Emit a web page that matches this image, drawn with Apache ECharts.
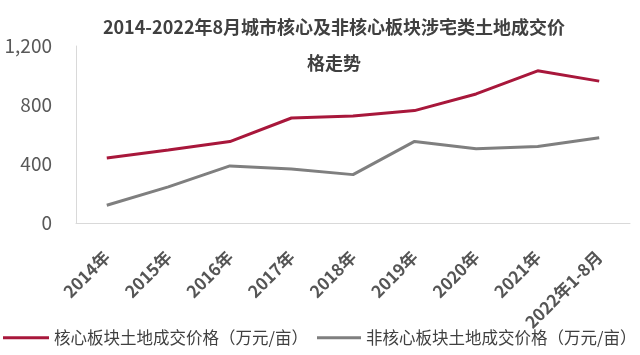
<!DOCTYPE html>
<html><head><meta charset="utf-8">
<script src="https://cdn.jsdelivr.net/npm/echarts@6/dist/echarts.min.js"></script>
<style>html,body{margin:0;padding:0;background:#fff}#c{width:640px;height:355px}</style>
</head><body><div id="c"></div>
<script>
const categories = ['2014年','2015年','2016年','2017年','2018年','2019年','2020年','2021年','2022年1-8月'];
const coreName = '核心板块土地成交价格（万元/亩）';
const nonCoreName = '非核心板块土地成交价格（万元/亩）';
const coreValues = [440, 495, 552, 712, 725, 762, 875, 1032, 962];
const nonCoreValues = [120, 245, 387, 366, 328, 553, 504, 518, 578];
const yTicks = [0, 400, 800, 1200];

const font = '"Noto Sans CJK SC", "Noto Sans", sans-serif';
const legendText = {fontFamily: font, fontSize: 16.5, color: '#404040'};
const chart = echarts.init(document.getElementById('c'));
chart.setOption({
  animation: false,
  textStyle: {fontFamily: font},
  title: {
    text: '2014-2022年8月城市核心及非核心板块涉宅类土地成交价\n格走势',
    left: 329, top: 4, textAlign: 'center',
    textStyle: {fontFamily: font, fontSize: 18, fontWeight: 'bold', color: '#404040', lineHeight: 36}
  },
  legend: [
    {bottom: 4, left: 0, padding: [5, 3], itemWidth: 46, itemHeight: 3, itemGap: 4,
     icon: 'rect', textStyle: legendText, data: [coreName]},
    {bottom: 4, left: 314, padding: [5, 3], itemWidth: 44, itemHeight: 3, itemGap: 4,
     icon: 'rect', textStyle: legendText, data: [nonCoreName]}
  ],
  grid: {left: 76, right: 10, top: 46, bottom: 132},
  xAxis: {
    type: 'category', data: categories, boundaryGap: true,
    axisLine: {lineStyle: {color: '#d9d9d9'}},
    axisTick: {show: false},
    axisLabel: {rotate: 45, fontSize: 17, fontWeight: 'bold', color: '#555555', fontFamily: font, margin: 31, interval: 0}
  },
  yAxis: {
    type: 'value', min: yTicks[0], max: yTicks[yTicks.length-1], interval: 400,
    axisLine: {show: true, lineStyle: {color: '#d9d9d9'}},
    axisTick: {show: false},
    splitLine: {show: false},
    axisLabel: {fontSize: 19, color: '#595959', fontFamily: font, margin: 24,
      formatter: v => v.toLocaleString('en-US')}
  },
  series: [
    {name: coreName, type: 'line', data: coreValues, symbol: 'none',
     lineStyle: {width: 3, color: '#a8173b'}, itemStyle: {color: '#a8173b'}},
    {name: nonCoreName, type: 'line', data: nonCoreValues, symbol: 'none',
     lineStyle: {width: 3, color: '#7f7f7f'}, itemStyle: {color: '#7f7f7f'}}
  ]
});
</script></body></html>
